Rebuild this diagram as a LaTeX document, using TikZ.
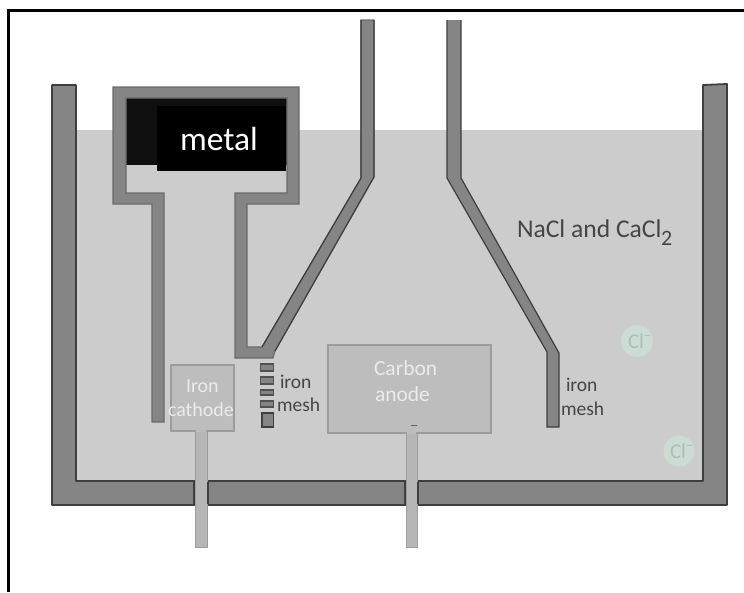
\documentclass[tikz,border=0pt]{standalone}
\usepackage{fontspec}
\setmainfont{Carlito}
\definecolor{wallfill}{HTML}{858585}
\definecolor{walledge}{HTML}{3E3E3E}
\definecolor{liquid}{HTML}{CCCCCC}
\definecolor{cupedge}{HTML}{6A6A6A}
\definecolor{boxfill}{HTML}{BDBDBD}
\definecolor{boxedge}{HTML}{9C9C9C}
\definecolor{rodfill}{HTML}{B6B6B6}
\definecolor{inktext}{HTML}{454545}
\definecolor{ionfill}{HTML}{CBDCD4}
\definecolor{iontext}{HTML}{B0BDB7}
\tikzset{
  x=1pt,y=-1pt,
  wall/.style={fill=wallfill,draw=walledge,line width=1.8pt,line join=round},
  cup/.style={fill=wallfill,draw=cupedge,line width=1.1pt,line join=miter},
  tube/.style={fill=wallfill,draw=walledge,line width=1.2pt,line join=miter},
  elec/.style={fill=boxfill,draw=boxedge,line width=1.2pt},
  rod/.style={fill=rodfill,draw=boxedge,line width=1pt},
  slot/.style={draw=walledge,line width=1.4pt},
  lbl/.style={anchor=base west,inner sep=0pt,outer sep=0pt},
  dark/.style={lbl,text=inktext,font=\fontsize{19.5}{20}\selectfont},
  pale/.style={lbl,text=white!92!black,font=\fontsize{#1}{22}\selectfont},
  ion/.style={circle,fill=ionfill,inner sep=0pt,minimum size=#1},
  iontxt/.style={lbl,text=iontext,font=\fontsize{21}{21}\selectfont},
}
\begin{document}
\begin{tikzpicture}
\useasboundingbox (0,0) rectangle (744,592);
% frame: only top and left sides are printed
\draw[black,line width=3pt] (744,10) -- (8,10) -- (8,592);
% electrolyte
\fill[liquid] (75,130) rectangle (703,481);
% tank
\draw[wall] (52,85) -- (76,85) -- (76,481) -- (703,481) -- (703,85) -- (727,84) -- (727,505) -- (52,505) -- cycle;
% metal
\fill[black!94] (126,98) rectangle (287,165);
\fill[black] (157,106) rectangle (286,171);
% cup, stems and left tube
\draw[cup] (152,422) -- (152,204) -- (113,204) -- (113,87) -- (299,87) -- (299,204) -- (247,204) -- (247,347) -- (262,347) -- (361,178) -- (361,20) -- (374,20) -- (374,177) -- (275,351) -- (273,358) -- (235,358) -- (235,193) -- (287,193) -- (287,98) -- (126,98) -- (126,193) -- (164,193) -- (164,422) -- cycle;
\draw[walledge,line width=1.2pt] (361,20) -- (361,178) -- (262,347);
\draw[walledge,line width=1.2pt] (374,20) -- (374,177) -- (275,351);
% right tube
\draw[tube] (447,20) -- (447,178) -- (547,352) -- (547,427) -- (559,427) -- (559,353) -- (461,178) -- (461,20);
\fill[wallfill] (447.6,20) rectangle (460.4,21);
% left mesh
\foreach \ya/\yb in {364/371,377/384,390/395,401/407}
  \draw[fill=wallfill,draw=walledge!90,line width=1.2pt] (260.5,\ya) rectangle (273.5,\yb);
\draw[fill=wallfill,draw=walledge,line width=1.4pt] (262,413) rectangle (273.5,427);
% electrodes
\draw[elec] (171,365) rectangle (234,431);
\draw[elec] (328,345) rectangle (491,433);
\draw[rod] (195,431) rectangle (207,547);
\draw[rod] (406,433) rectangle (417,547);
\fill[boxfill] (196,428) rectangle (206,432);
\fill[boxfill] (407,430) rectangle (416,434);
\draw[walledge!80,line width=1pt] (411,425) -- (417,425);
\draw[slot] (194,482) -- (194,504);
\draw[slot] (208,482) -- (208,504);
\draw[slot] (405,482) -- (405,504);
\draw[slot] (418,482) -- (418,504);
% ions
\node[ion=32pt] (ionA) at (637,341) {};
\node[ion=31pt] (ionB) at (679,451) {};
\node[iontxt] (ionAt) at (628,348) {Cl\textsuperscript{−}};
\node[iontxt] (ionBt) at (670,458) {Cl\textsuperscript{−}};
% labels
\node[lbl,text=white,font=\fontsize{33.5}{33}\selectfont] (metal) at (180,150) {metal};
\node[pale=20] (iron1) at (186,392) {Iron};
\node[pale=20] (cath) at (168,416) {cathode};
\node[pale=21.5] (carb) at (374,375) {Carbon};
\node[pale=21.5] (anod) at (375,401) {anode};
\node[dark] (m1a) at (280,388) {iron};
\node[dark] (m1b) at (277,411) {mesh};
\node[dark] (m2a) at (566,391) {iron};
\node[dark] (m2b) at (561,415) {mesh};
\node[lbl,text=inktext,font=\fontsize{25.6}{25}\selectfont] (salt) at (517,237) {NaCl and CaCl};
\node[lbl,text=inktext,font=\fontsize{22}{19}\selectfont] (sub) at (661,245) {2};
\end{tikzpicture}
\end{document}
